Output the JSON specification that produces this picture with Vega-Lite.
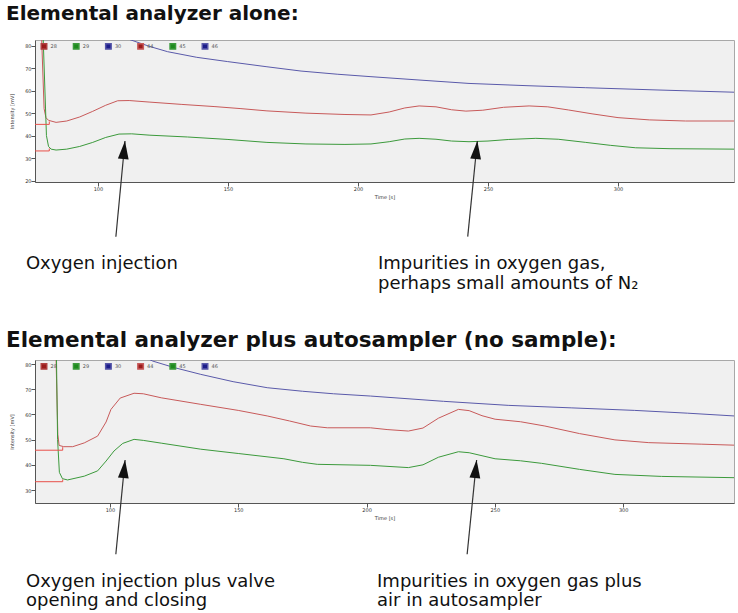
{
  "$schema": "https://vega.github.io/schema/vega-lite/v6.json",
  "background": "white",
  "padding": {"left": 5, "top": 3, "right": 0, "bottom": 0},
  "bounds": "flush",
  "spacing": 178,
  "config": {
    "font": "DejaVu Sans",
    "view": {"fill": "#f0f0f0", "stroke": "#a8a8a8", "strokeWidth": 1},
    "axis": {"labelFontSize": 5, "labelColor": "#333", "tickColor": "#555", "domainColor": "#555", "tickSize": 4, "labelPadding": 0, "grid": false, "titleFontSize": 5, "titleFontWeight": "normal", "titleColor": "#333", "labelOverlap": false},
    "title": {"font": "DejaVu Sans", "fontSize": 20, "fontWeight": "bold", "color": "#111", "anchor": "start", "frame": "group"},
    "legend": {"orient": "none", "legendX": 5.5, "legendY": 2.5, "direction": "horizontal", "columns": 6, "gridAlign": "all", "symbolType": "square", "symbolSize": 30, "labelFontSize": 5, "labelColor": "#555", "labelOffset": 3, "columnPadding": 12.2, "padding": 0, "title": null}
  },
  "datasets": {
    "top_lines": [
      {"s": "44", "t": 78.0, "v": 95}, {"s": "44", "t": 79.3, "v": 52}, {"s": "44", "t": 80.0, "v": 48}, {"s": "44", "t": 81.0, "v": 46.8}, {"s": "44", "t": 83.9, "v": 45.9}, {"s": "44", "t": 88, "v": 46.5}, {"s": "44", "t": 93, "v": 48.3}, {"s": "44", "t": 98, "v": 50.8}, {"s": "44", "t": 103, "v": 53.5}, {"s": "44", "t": 107.6, "v": 55.5}, {"s": "44", "t": 112, "v": 55.6}, {"s": "44", "t": 120, "v": 54.9}, {"s": "44", "t": 132, "v": 53.9}, {"s": "44", "t": 145, "v": 52.9}, {"s": "44", "t": 155, "v": 52.0}, {"s": "44", "t": 165, "v": 51.0}, {"s": "44", "t": 180, "v": 50.0}, {"s": "44", "t": 195, "v": 49.4}, {"s": "44", "t": 205, "v": 49.2}, {"s": "44", "t": 212, "v": 50.5}, {"s": "44", "t": 218, "v": 52.3}, {"s": "44", "t": 223.5, "v": 53.2}, {"s": "44", "t": 230, "v": 52.8}, {"s": "44", "t": 236, "v": 51.5}, {"s": "44", "t": 241.5, "v": 50.9}, {"s": "44", "t": 248, "v": 51.3}, {"s": "44", "t": 256, "v": 52.6}, {"s": "44", "t": 265.8, "v": 53.2}, {"s": "44", "t": 273, "v": 52.8}, {"s": "44", "t": 281, "v": 51.4}, {"s": "44", "t": 290, "v": 49.7}, {"s": "44", "t": 300, "v": 48.0}, {"s": "44", "t": 312, "v": 47.0}, {"s": "44", "t": 326, "v": 46.5}, {"s": "44", "t": 344.6, "v": 46.5},
      {"s": "45", "t": 78.6, "v": 95}, {"s": "45", "t": 80.2, "v": 40}, {"s": "45", "t": 81.0, "v": 35.2}, {"s": "45", "t": 82.0, "v": 34.0}, {"s": "45", "t": 83.9, "v": 33.6}, {"s": "45", "t": 88, "v": 34.0}, {"s": "45", "t": 93, "v": 35.2}, {"s": "45", "t": 98, "v": 37.0}, {"s": "45", "t": 103, "v": 39.2}, {"s": "45", "t": 108.1, "v": 40.7}, {"s": "45", "t": 113, "v": 40.8}, {"s": "45", "t": 120, "v": 40.2}, {"s": "45", "t": 134.5, "v": 39.4}, {"s": "45", "t": 150, "v": 38.3}, {"s": "45", "t": 165, "v": 37.0}, {"s": "45", "t": 180, "v": 36.3}, {"s": "45", "t": 195, "v": 36.1}, {"s": "45", "t": 205, "v": 36.3}, {"s": "45", "t": 212, "v": 37.3}, {"s": "45", "t": 218, "v": 38.5}, {"s": "45", "t": 223.5, "v": 38.8}, {"s": "45", "t": 230, "v": 38.4}, {"s": "45", "t": 236, "v": 37.6}, {"s": "45", "t": 242.7, "v": 37.3}, {"s": "45", "t": 250, "v": 37.6}, {"s": "45", "t": 258, "v": 38.3}, {"s": "45", "t": 268.4, "v": 38.8}, {"s": "45", "t": 277, "v": 38.4}, {"s": "45", "t": 287.6, "v": 37.0}, {"s": "45", "t": 297, "v": 35.7}, {"s": "45", "t": 306.8, "v": 34.6}, {"s": "45", "t": 320, "v": 34.2}, {"s": "45", "t": 344.6, "v": 34.0},
      {"s": "46", "t": 108, "v": 84.5}, {"s": "46", "t": 112.7, "v": 82.5}, {"s": "46", "t": 120, "v": 79.6}, {"s": "46", "t": 126.8, "v": 77.3}, {"s": "46", "t": 138, "v": 74.8}, {"s": "46", "t": 149.9, "v": 72.9}, {"s": "46", "t": 165, "v": 70.6}, {"s": "46", "t": 178.1, "v": 68.7}, {"s": "46", "t": 192, "v": 67.3}, {"s": "46", "t": 205, "v": 66.2}, {"s": "46", "t": 225, "v": 64.6}, {"s": "46", "t": 242.7, "v": 63.2}, {"s": "46", "t": 265, "v": 62.2}, {"s": "46", "t": 287.6, "v": 61.3}, {"s": "46", "t": 315, "v": 60.3}, {"s": "46", "t": 344.6, "v": 59.3}
    ],
    "top_base": [
      {"g": "a", "t": 75.8, "v": 45.0}, {"g": "a", "t": 81.3, "v": 45.0}, {"g": "a", "t": 81.3, "v": 46.3},
      {"g": "b", "t": 75.8, "v": 33.2}, {"g": "b", "t": 81.3, "v": 33.2}, {"g": "b", "t": 81.3, "v": 34.3}
    ],
    "top_arrows": [
      {"t": 106.9, "v": -4.9, "t2": 110.4, "v2": 37.6},
      {"t": 242.2, "v": -4.9, "t2": 245.9, "v2": 37.6}
    ],
    "top_notes": [
      {"t": 72.3, "v": -19.3, "label": "Oxygen injection"},
      {"t": 207.7, "v": -19.3, "label": "Impurities in oxygen gas,"},
      {"t": 207.7, "v": -28.0, "label": "perhaps small amounts of N₂"}
    ],
    "bot_lines": [
      {"s": "44", "t": 78.7, "v": 95}, {"s": "44", "t": 79.7, "v": 52}, {"s": "44", "t": 80.2, "v": 47.7}, {"s": "44", "t": 82, "v": 47.2}, {"s": "44", "t": 85.5, "v": 47.2}, {"s": "44", "t": 90, "v": 48.7}, {"s": "44", "t": 95.2, "v": 51.4}, {"s": "44", "t": 98.5, "v": 57}, {"s": "44", "t": 100.4, "v": 62}, {"s": "44", "t": 104, "v": 66.5}, {"s": "44", "t": 109.4, "v": 68.4}, {"s": "44", "t": 113, "v": 68.2}, {"s": "44", "t": 120, "v": 66.6}, {"s": "44", "t": 135.4, "v": 64.0}, {"s": "44", "t": 150, "v": 61.6}, {"s": "44", "t": 161.3, "v": 59.4}, {"s": "44", "t": 170, "v": 57.4}, {"s": "44", "t": 178.2, "v": 55.4}, {"s": "44", "t": 184.7, "v": 54.7}, {"s": "44", "t": 201.5, "v": 54.7}, {"s": "44", "t": 208, "v": 54.0}, {"s": "44", "t": 216.3, "v": 53.4}, {"s": "44", "t": 222, "v": 54.6}, {"s": "44", "t": 228, "v": 58.5}, {"s": "44", "t": 235.8, "v": 62.0}, {"s": "44", "t": 240, "v": 61.5}, {"s": "44", "t": 245, "v": 59.5}, {"s": "44", "t": 250.1, "v": 58.1}, {"s": "44", "t": 260, "v": 57.1}, {"s": "44", "t": 269.5, "v": 55.4}, {"s": "44", "t": 283, "v": 52.4}, {"s": "44", "t": 296.8, "v": 49.9}, {"s": "44", "t": 310, "v": 48.8}, {"s": "44", "t": 330.4, "v": 48.2}, {"s": "44", "t": 343.2, "v": 47.8},
      {"s": "45", "t": 79.0, "v": 95}, {"s": "45", "t": 79.6, "v": 50}, {"s": "45", "t": 80.3, "v": 37}, {"s": "45", "t": 81.5, "v": 34.5}, {"s": "45", "t": 83.5, "v": 34.0}, {"s": "45", "t": 90, "v": 35.5}, {"s": "45", "t": 95.2, "v": 37.6}, {"s": "45", "t": 98.5, "v": 41.5}, {"s": "45", "t": 101.6, "v": 45.5}, {"s": "45", "t": 105, "v": 48.5}, {"s": "45", "t": 109.4, "v": 50.1}, {"s": "45", "t": 113, "v": 49.7}, {"s": "45", "t": 120, "v": 48.6}, {"s": "45", "t": 135.4, "v": 46.2}, {"s": "45", "t": 150, "v": 44.5}, {"s": "45", "t": 167.8, "v": 42.4}, {"s": "45", "t": 175, "v": 41.0}, {"s": "45", "t": 180.8, "v": 40.2}, {"s": "45", "t": 201.5, "v": 39.8}, {"s": "45", "t": 216.3, "v": 38.9}, {"s": "45", "t": 222, "v": 40.0}, {"s": "45", "t": 228, "v": 43.0}, {"s": "45", "t": 235.8, "v": 45.2}, {"s": "45", "t": 240, "v": 44.8}, {"s": "45", "t": 250.1, "v": 42.4}, {"s": "45", "t": 260, "v": 41.6}, {"s": "45", "t": 268.2, "v": 40.6}, {"s": "45", "t": 283, "v": 38.2}, {"s": "45", "t": 296.8, "v": 36.2}, {"s": "45", "t": 315, "v": 35.4}, {"s": "45", "t": 343.2, "v": 34.9},
      {"s": "46", "t": 113, "v": 83}, {"s": "46", "t": 116.6, "v": 81.2}, {"s": "46", "t": 125, "v": 78.6}, {"s": "46", "t": 135.4, "v": 75.9}, {"s": "46", "t": 148, "v": 73.0}, {"s": "46", "t": 161.3, "v": 70.6}, {"s": "46", "t": 175, "v": 69.2}, {"s": "46", "t": 187.1, "v": 68.2}, {"s": "46", "t": 201.5, "v": 67.3}, {"s": "46", "t": 230, "v": 65.2}, {"s": "46", "t": 255.2, "v": 63.6}, {"s": "46", "t": 280, "v": 62.6}, {"s": "46", "t": 304.5, "v": 61.6}, {"s": "46", "t": 325, "v": 60.5}, {"s": "46", "t": 343.2, "v": 59.4}
    ],
    "bot_base": [
      {"g": "a", "t": 70.8, "v": 45.8}, {"g": "a", "t": 81.6, "v": 45.8}, {"g": "a", "t": 81.6, "v": 47.0},
      {"g": "b", "t": 70.8, "v": 33.3}, {"g": "b", "t": 81.6, "v": 33.3}, {"g": "b", "t": 81.6, "v": 34.2}
    ],
    "bot_arrows": [
      {"t": 102.3, "v": 4.5, "t2": 105.9, "v2": 41.9},
      {"t": 239.2, "v": 4.5, "t2": 242.9, "v2": 41.9}
    ],
    "bot_notes": [
      {"t": 67.3, "v": -8.4, "label": "Oxygen injection plus valve"},
      {"t": 67.3, "v": -16.1, "label": "opening and closing"},
      {"t": 204.1, "v": -8.4, "label": "Impurities in oxygen gas plus"},
      {"t": 204.1, "v": -16.1, "label": "air in autosampler"}
    ]
  },
  "resolve": {"scale": {"color": "independent"}, "legend": {"color": "independent"}},
  "vconcat": [
    {
      "title": {"text": "Elemental analyzer alone:", "dx": -29, "offset": 16},
      "width": 699,
      "height": 142,
      "layer": [
        {
          "data": {"name": "top_lines"},
          "mark": {"type": "line", "clip": true, "strokeWidth": 1},
          "encoding": {
            "x": {"field": "t", "type": "quantitative", "scale": {"domain": [75.8, 344.6], "nice": false, "zero": false}, "axis": {"title": "Time [s]", "values": [100, 150, 200, 250, 300], "tickCount": 20, "titlePadding": 3, "labelOverlap": false}},
            "y": {"field": "v", "type": "quantitative", "scale": {"domain": [19.4, 82.5], "nice": false, "zero": false}, "axis": {"title": "Intensity [mV]", "values": [20, 30, 40, 50, 60, 70, 80], "tickCount": 20, "titlePadding": 10, "labelOverlap": false}},
            "color": {"field": "s", "type": "nominal", "scale": {"domain": ["28", "29", "30", "44", "45", "46"], "range": ["#b04040", "#3c9a3c", "#5555a8", "#c85a5a", "#3c9a3c", "#5a5aaa"]},
              "legend": {"encode": {"symbols": {"update": {"fill": {"signal": "indexof(['28','44'], datum.value) >= 0 ? '#9a1c1c' : (indexof(['29','45'], datum.value) >= 0 ? '#1e8a1e' : '#1c1c8a')"}, "stroke": {"signal": "indexof(['28','44'], datum.value) >= 0 ? '#9a1c1c' : (indexof(['29','45'], datum.value) >= 0 ? '#1e8a1e' : '#1c1c8a')"}, "opacity": {"value": 1}}}}}},
            "order": {"value": null}
          }
        },
        {
          "data": {"name": "top_base"},
          "mark": {"type": "line", "clip": true, "strokeWidth": 1, "color": "#e8504a"},
          "encoding": {"x": {"field": "t", "type": "quantitative"}, "y": {"field": "v", "type": "quantitative"}, "detail": {"field": "g"}, "order": {"value": null}}
        },
        {
          "data": {"name": "top_arrows"},
          "mark": {"type": "rule", "color": "#333", "strokeWidth": 1.2},
          "encoding": {"x": {"field": "t", "type": "quantitative"}, "y": {"field": "v", "type": "quantitative"}, "x2": {"field": "t2"}, "y2": {"field": "v2"}}
        },
        {
          "data": {"name": "top_arrows"},
          "mark": {"type": "point", "shape": "M0,0L0.6,2L-0.6,2Z", "size": 324, "filled": true, "color": "#111", "opacity": 1, "angle": 5.5},
          "encoding": {"x": {"field": "t2", "type": "quantitative"}, "y": {"field": "v2", "type": "quantitative"}}
        },
        {
          "data": {"name": "top_notes"},
          "mark": {"type": "text", "align": "left", "baseline": "alphabetic", "fontSize": 18, "font": "DejaVu Sans", "color": "#111"},
          "encoding": {"x": {"field": "t", "type": "quantitative"}, "y": {"field": "v", "type": "quantitative"}, "text": {"field": "label"}}
        }
      ]
    },
    {
      "title": {"text": "Elemental analyzer plus autosampler (no sample):", "dx": -29, "offset": 9, "fontSize": 21.5},
      "width": 699,
      "height": 143,
      "layer": [
        {
          "data": {"name": "bot_lines"},
          "mark": {"type": "line", "clip": true, "strokeWidth": 1},
          "encoding": {
            "x": {"field": "t", "type": "quantitative", "scale": {"domain": [70.8, 343.2], "nice": false, "zero": false}, "axis": {"title": "Time [s]", "values": [100, 150, 200, 250, 300], "tickCount": 20, "titlePadding": 3, "labelOverlap": false}},
            "y": {"field": "v", "type": "quantitative", "scale": {"domain": [24.85, 81.6], "nice": false, "zero": false}, "axis": {"title": "Intensity [mV]", "values": [30, 40, 50, 60, 70, 80], "tickCount": 20, "titlePadding": 10, "labelOverlap": false}},
            "color": {"field": "s", "type": "nominal", "scale": {"domain": ["28", "29", "30", "44", "45", "46"], "range": ["#b04040", "#3c9a3c", "#5555a8", "#c85a5a", "#3c9a3c", "#5a5aaa"]},
              "legend": {"encode": {"symbols": {"update": {"fill": {"signal": "indexof(['28','44'], datum.value) >= 0 ? '#9a1c1c' : (indexof(['29','45'], datum.value) >= 0 ? '#1e8a1e' : '#1c1c8a')"}, "stroke": {"signal": "indexof(['28','44'], datum.value) >= 0 ? '#9a1c1c' : (indexof(['29','45'], datum.value) >= 0 ? '#1e8a1e' : '#1c1c8a')"}, "opacity": {"value": 1}}}}}},
            "order": {"value": null}
          }
        },
        {
          "data": {"name": "bot_base"},
          "mark": {"type": "line", "clip": true, "strokeWidth": 1, "color": "#e8504a"},
          "encoding": {"x": {"field": "t", "type": "quantitative"}, "y": {"field": "v", "type": "quantitative"}, "detail": {"field": "g"}, "order": {"value": null}}
        },
        {
          "data": {"name": "bot_arrows"},
          "mark": {"type": "rule", "color": "#333", "strokeWidth": 1.2},
          "encoding": {"x": {"field": "t", "type": "quantitative"}, "y": {"field": "v", "type": "quantitative"}, "x2": {"field": "t2"}, "y2": {"field": "v2"}}
        },
        {
          "data": {"name": "bot_arrows"},
          "mark": {"type": "point", "shape": "M0,0L0.6,2L-0.6,2Z", "size": 324, "filled": true, "color": "#111", "opacity": 1, "angle": 5.6},
          "encoding": {"x": {"field": "t2", "type": "quantitative"}, "y": {"field": "v2", "type": "quantitative"}}
        },
        {
          "data": {"name": "bot_notes"},
          "mark": {"type": "text", "align": "left", "baseline": "alphabetic", "fontSize": 18, "font": "DejaVu Sans", "color": "#111"},
          "encoding": {"x": {"field": "t", "type": "quantitative"}, "y": {"field": "v", "type": "quantitative"}, "text": {"field": "label"}}
        }
      ]
    }
  ]
}
